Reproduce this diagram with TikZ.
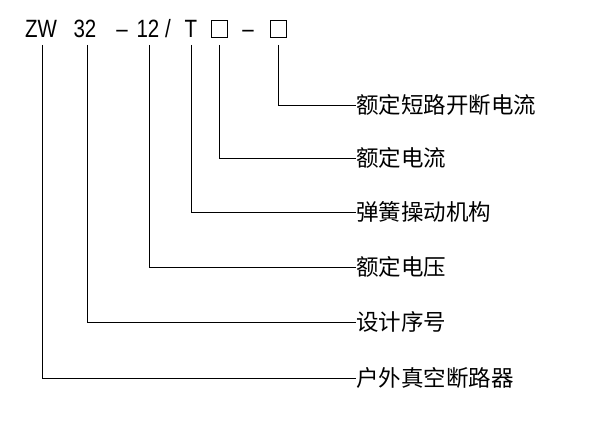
\documentclass[tikz,border=0pt]{standalone}
\usepackage{fontspec}
\setmainfont{Liberation Sans}
\newfontfamily\cjk{Noto Sans CJK SC}
\begin{document}
\begin{tikzpicture}[x=1pt,y=-1pt,
  code/.style={font=\fontsize{25}{25}\selectfont, inner sep=0pt, anchor=base, xscale=0.82},
  lbl/.style={font=\cjk\fontsize{22.5}{22.5}\selectfont, inner sep=0pt, anchor=west},
  ln/.style={line width=0.9pt}]
\useasboundingbox (0,0) rectangle (600,422);
\node[code] (z) at (41,38) {ZW};
\node[code] (n32) at (85,38) {32};
\node[code] (d1) at (122,38) {--};
\node[code] (n12) at (148,38) {12};
\node[code] (sl) at (168,38) {/};
\node[code] (t) at (191,38) {T};
\node[inner sep=0pt, draw, line width=0.8pt, minimum width=16pt, minimum height=17pt] (b1) at (219,29) {};
\node[code] (d2) at (248,38) {--};
\node[inner sep=0pt, draw, line width=0.8pt, minimum width=16pt, minimum height=17pt] (b2) at (278,29) {};
\node[lbl] (l6) at (356,105) {额定短路开断电流};
\node[lbl] (l5) at (356,158) {额定电流};
\node[lbl] (l4) at (356,212) {弹簧操动机构};
\node[lbl] (l3) at (356,267) {额定电压};
\node[lbl] (l2) at (356,322) {设计序号};
\node[lbl] (l1) at (356,378) {户外真空断路器};
\coordinate (a1) at (42,45); \coordinate (a2) at (87,45); \coordinate (a3) at (149,45);
\coordinate (a4) at (191,45); \coordinate (a5) at (219,45); \coordinate (a6) at (278,45);
\draw[ln] (a1) |- (l1.west);
\draw[ln] (a2) |- (l2.west);
\draw[ln] (a3) |- (l3.west);
\draw[ln] (a4) |- (l4.west);
\draw[ln] (a5) |- (l5.west);
\draw[ln] (a6) |- (l6.west);
\end{tikzpicture}
\end{document}
